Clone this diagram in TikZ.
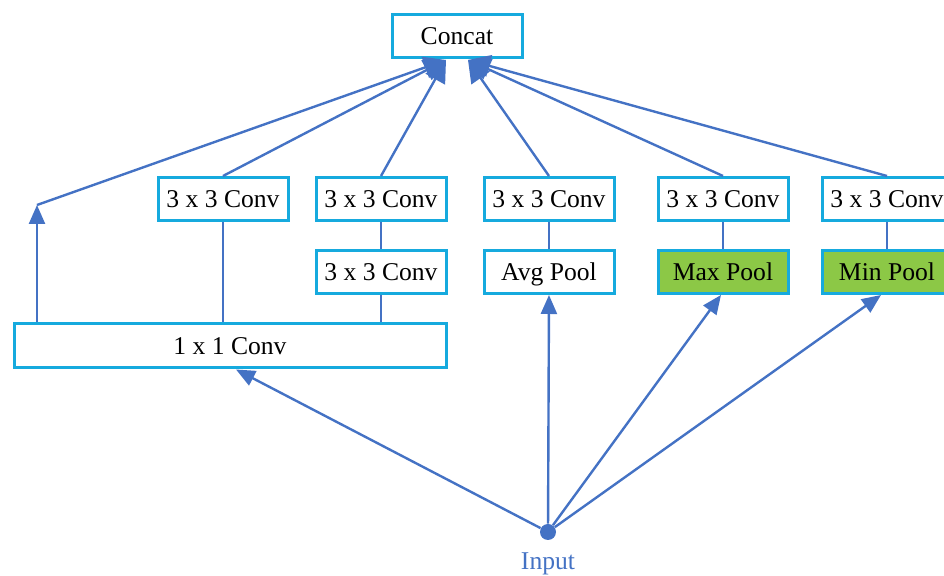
\documentclass[tikz,border=0pt]{standalone}
\usepackage{fontspec}
\setmainfont{Liberation Serif}
\usetikzlibrary{arrows.meta,positioning}

\definecolor{boxline}{RGB}{22,170,222}
\definecolor{wire}{RGB}{68,114,196}
\definecolor{poolgreen}{RGB}{140,200,70}

\tikzset{
  layer/.style={draw=boxline, line width=1.5pt, fill=white, minimum width=65pt,
                minimum height=21.5pt, inner sep=0pt, text height=8.6pt, text depth=0pt,
                font=\fontsize{12.8}{15}\selectfont},
  pool/.style={layer, fill=poolgreen},
  wire/.style={draw=wire, line width=1.2pt},
  arr/.style={wire, -{Triangle[width=8pt,length=9.5pt]}},
  bigarr/.style={wire, -{Triangle[width=11pt,length=11pt]}}
}

\begin{document}
\begin{tikzpicture}[x=0.5pt,y=-0.5pt]
        \useasboundingbox (0,0) rectangle (944,576);

        % top and bottom of the block
        \node[layer] (concat) at (457,36) {Concat};
        \node[layer, minimum width=216pt, minimum height=22pt] (conv1) at (230,346) {1 x 1 Conv};
        \node[circle, fill=wire, minimum size=8pt, inner sep=0pt] (input) at (548,532) {};
        \node[text=wire, font=\fontsize{12.8}{15}\selectfont, below=2.5pt of input] (inputlbl) {Input};

        % upper row of 3 x 3 convolutions
        \node[layer] (convA) at (223,199) {3 x 3 Conv};
        \node[layer] (convB) at (381,199) {3 x 3 Conv};
        \node[layer] (convC) at (549,199) {3 x 3 Conv};
        \node[layer] (convD) at (723,199) {3 x 3 Conv};
        \node[layer] (convE) at (887,199) {3 x 3 Conv};

        % second row
        \node[layer] (convB2) at (381,272) {3 x 3 Conv};
        \node[layer] (avgpool) at (549,272) {Avg Pool};
        \node[pool] (maxpool) at (723,272) {Max Pool};
        \node[pool] (minpool) at (887,272) {Min Pool};

        % where the branches meet Concat
        \coordinate (inL) at (446,60);
        \coordinate (inR) at (468,60);
        \coordinate (skip) at (37,205);

        \draw[arr] (conv1.north -| skip) -- (skip);
        \draw[bigarr] (skip) -- (inL);
        \draw[bigarr] (convA.north) -- (inL);
        \draw[bigarr] (convB.north) -- (inL);
        \draw[bigarr] (convC.north) -- (inR);
        \draw[bigarr] (convD.north) -- (inR);
        \draw[bigarr] (convE.north) -- (inR);

        \draw[wire] (convA.south) -- (conv1.north -| convA);
        \draw[wire] (convB.south) -- (convB2.north);
        \draw[wire] (convB2.south) -- (conv1.north -| convB2);
        \draw[wire] (avgpool.north) -- (convC.south);
        \draw[wire] (maxpool.north) -- (convD.south);
        \draw[wire] (minpool.north) -- (convE.south);

        \draw[arr] (input) -- ([xshift=3pt]conv1.south);
        \draw[arr] (input) -- (avgpool.south);
        \draw[arr] (input) -- ([xshift=-1pt]maxpool.south);
        \draw[arr] (input) -- ([xshift=-3pt]minpool.south);
      \end{tikzpicture}
\end{document}
